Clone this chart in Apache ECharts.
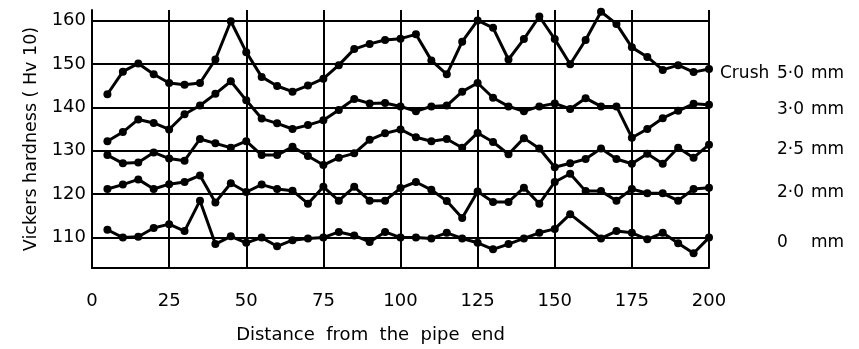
<!DOCTYPE html>
<html><head><meta charset="utf-8">
<script src="https://cdn.jsdelivr.net/npm/echarts@6/dist/echarts.min.js"></script>
<style>html,body{margin:0;padding:0;background:#fff}#c{width:859px;height:349px}</style>
</head><body><div id="c"></div>
<script>
const distances = [5,10,15,20,25,30,35,40,45,50,55,60,65,70,75,80,85,90,95,100,105,110,115,120,125,130,135,140,145,150,155,160,165,170,175,180,185,190,195,200];
const crush50 = [143,148.2,150.1,147.6,145.6,145.2,145.6,151,159.8,152.7,147,144.9,143.6,145,146.6,149.7,153.4,154.6,155.5,155.8,156.8,150.8,147.6,155.1,160,158.3,151,155.7,160.9,155.7,149.9,155.5,162,159.2,153.8,151.6,148.6,149.7,148.1,148.8];
const crush30 = [132.2,134.3,137.2,136.4,134.9,138.4,140.4,143.1,146,141.6,137.4,136.3,135,135.9,137,139.4,141.9,140.9,141,140.2,139.1,140.2,140.4,143.6,145.6,142.2,140.2,139.1,140.2,140.9,139.6,142.1,140.2,140.2,133,135,137.5,139.2,140.8,140.6];
const crush25 = [129,127.1,127.3,129.6,128.2,127.7,132.7,131.7,130.7,132.2,129,129,130.9,128.8,126.7,128.4,129.4,132.5,134,134.9,133.1,132.2,132.7,130.7,134.1,132,129.2,132.9,130.5,126.2,127.1,128.1,130.5,128.1,127,129.3,127,130.7,128.4,131.4];
const crush20 = [121.2,122.2,123.4,121.2,122.3,122.8,124.3,118.1,122.5,120.5,122.2,121.2,120.8,117.8,121.7,118.5,121.7,118.5,118.5,121.4,122.8,121,118.4,114.5,120.6,118.2,118.2,121.5,117.8,122.8,124.7,120.7,120.7,118.5,121.2,120.2,120.2,118.5,121.2,121.5];
const crush0 = [111.8,110,110.2,112.2,113.1,111.5,118.5,108.5,110.3,108.8,110,108,109.4,109.8,110,111.3,110.5,109,111.3,110,110,109.8,111.1,109.8,108.8,107.3,108.5,109.8,111.1,112,115.4,null,109.8,111.5,111.1,109.6,111.1,108.7,106.4,110];
const seriesPrefix = ['Crush', '', '', '', ''];
const seriesNames = ['5·0', '3·0', '2·5', '2·0', '0'];
const seriesValues = [crush50, crush30, crush25, crush20, crush0];
const xTicks = [0,25,50,75,100,125,150,175,200];
const yTicks = [110,120,130,140,150,160];

const FONT = 'DejaVu Sans';
const chart = echarts.init(document.getElementById('c'));
const series = seriesValues.map((vals, si) => ({
  type: 'line',
  name: seriesNames[si],
  data: distances.map((d, i) => [d, vals[i]]),
  connectNulls: true,
  symbol: 'circle',
  symbolSize: 8,
  itemStyle: { color: '#000' },
  lineStyle: { color: '#000', width: 3 },
  emphasis: { disabled: true },
  endLabel: {
    show: true,
    distance: 11,
    offset: [0, 5],
    formatter: () => '{a|' + seriesPrefix[si] + '}{b|' + seriesNames[si] + '}{c|mm}',
    rich: {
      a: { width: 57, fontFamily: FONT, fontSize: 17, color: '#000' },
      b: { width: 34, fontFamily: FONT, fontSize: 17, color: '#000' },
      c: { fontFamily: FONT, fontSize: 17, color: '#000' }
    }
  },
  markLine: si === 0 ? {
    silent: true,
    symbol: ['none', 'none'],
    label: { show: false },
    lineStyle: { color: '#000', width: 2, type: 'solid' },
    data: yTicks.map(v => ({ yAxis: v }))
  } : undefined
}));

chart.setOption({
  animation: false,
  backgroundColor: '#fff',
  grid: { left: 92, right: 150, top: 10, bottom: 74 },
  xAxis: {
    type: 'value', min: 0, max: 200, interval: 25,
    name: 'Distance  from  the  pipe  end',
    nameLocation: 'middle', nameGap: 58,
    nameTextStyle: { fontFamily: FONT, fontSize: 18, color: '#000', padding: [0, 60, 0, 0] },
    axisLine: { lineStyle: { color: '#000', width: 2 } },
    axisTick: { show: false },
    splitLine: { show: true, lineStyle: { color: '#000', width: 2 } },
    axisLabel: { color: '#000', fontFamily: FONT, fontSize: 18, margin: 24,
      customValues: xTicks }
  },
  yAxis: {
    type: 'value', min: 103, max: 162.4,
    name: 'Vickers hardness ( Hv 10)',
    nameLocation: 'middle', nameRotate: 90, nameGap: 50,
    nameTextStyle: { fontFamily: FONT, fontSize: 17.5, color: '#000' },
    axisLine: { show: true, lineStyle: { color: '#000', width: 2 } },
    axisTick: { show: false },
    splitLine: { show: false },
    axisLabel: { color: '#000', fontFamily: FONT, fontSize: 18, margin: 6,
      customValues: yTicks }
  },
  series: series
});
</script>
</body></html>
